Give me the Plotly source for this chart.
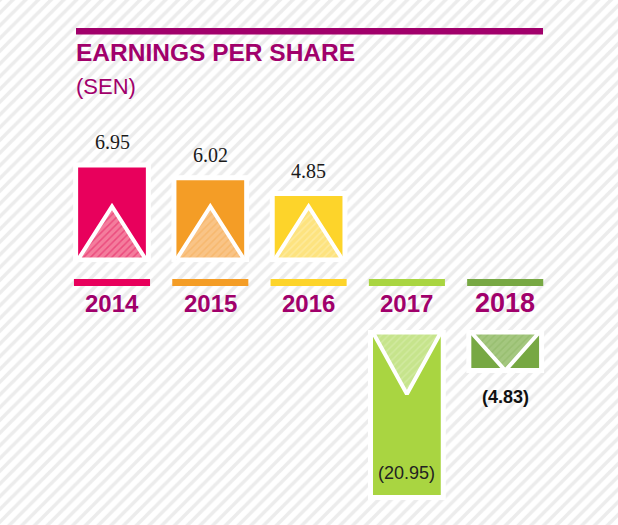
import plotly.graph_objects as go

W, H = 618, 525

# data
years = ["2014", "2015", "2016", "2017", "2018"]
eps = [6.95, 6.02, 4.85, -20.95, -4.83]
value_labels = ["6.95", "6.02", "4.85", "(20.95)", "(4.83)"]

# styling
BAR_COLORS = ["#e8005c", "#f49d26", "#fdd42a", "#a9d541", "#77a843"]
TRI_BG = ["#f47d9d", "#f9c487", "#fde37f", "#c6e48c", "#a4c77f"]
TRI_FG = ["#e21c5f", "#f5ac55", "#fef1b9", "#dbefb2", "#8cb661"]
PURPLE = "#a1006b"
BAR_W = 0.74
TRI_HALF = 0.345
TRI_UP = 3.9      # height of the decorative triangle on positive bars
TRI_DOWN = 7.8    # depth of the triangle on negative bars

X_DOM = [62.85 / W, 554.35 / W]


def py(px):
    """pixel row (from top) -> paper fraction"""
    return (H - px) / H


fig = go.Figure()

# striped page background on its own full-page axis (drawn first, so below)
fig.add_trace(
    go.Scatter(
        x=[0, 1, 1, 0, 0],
        y=[0, 0, 1, 1, 0],
        mode="lines",
        line=dict(width=0),
        fill="toself",
        fillcolor="#ffffff",
        fillpattern=dict(shape="/", bgcolor="#ffffff", fgcolor="#dadada", size=9, solidity=0.4),
        hoverinfo="skip",
        showlegend=False,
        xaxis="x",
        yaxis="y",
    )
)

pos = [i for i, v in enumerate(eps) if v >= 0]
neg = [i for i, v in enumerate(eps) if v < 0]

for idx, ax in ((pos, "2"), (neg, "3")):
    fig.add_trace(
        go.Bar(
            x=idx,
            y=[eps[i] for i in idx],
            width=BAR_W,
            marker=dict(color=[BAR_COLORS[i] for i in idx], line=dict(color="white", width=5)),
            hoverinfo="skip",
            showlegend=False,
            xaxis="x" + ax,
            yaxis="y" + ax,
        )
    )

# decorative hatched triangles inside each bar
for i, v in enumerate(eps):
    if v >= 0:
        tip, ax = TRI_UP, "2"
    else:
        tip, ax = -min(TRI_DOWN, abs(v)), "3"
    fig.add_trace(
        go.Scatter(
            x=[i - TRI_HALF, i, i + TRI_HALF, i - TRI_HALF],
            y=[0, tip, 0, 0],
            mode="lines",
            line=dict(color="white", width=4),
            fill="toself",
            fillcolor=TRI_BG[i],
            fillpattern=dict(shape="/", bgcolor=TRI_BG[i], fgcolor=TRI_FG[i], size=5, solidity=0.3),
            hoverinfo="skip",
            showlegend=False,
            xaxis="x" + ax,
            yaxis="y" + ax,
        )
    )

annotations = [
    dict(text="<b>EARNINGS PER SHARE</b>", xref="paper", yref="paper", x=74 / W, y=py(53),
         xanchor="left", yanchor="middle", showarrow=False,
         font=dict(family="Liberation Sans, Arial", size=24.5, color=PURPLE)),
    dict(text="(SEN)", xref="paper", yref="paper", x=74 / W, y=py(86),
         xanchor="left", yanchor="middle", showarrow=False,
         font=dict(family="Liberation Sans, Arial", size=22, color=PURPLE)),
]

for i, (yr, v, lab) in enumerate(zip(years, eps, value_labels)):
    annotations.append(
        dict(text=f"<b>{yr}</b>", xref="x2", yref="paper", x=i, y=py(303),
             xanchor="center", yanchor="middle", showarrow=False,
             font=dict(family="Liberation Sans, Arial", size=27 if i == 4 else 24, color=PURPLE))
    )
    if v >= 0:
        annotations.append(
            dict(text=lab, xref="x2", yref="y2", x=i, y=v, xanchor="center", yanchor="bottom",
                 yshift=10, showarrow=False,
                 font=dict(family="Liberation Serif, Times New Roman", size=20, color="#1a1a1a"))
        )
    elif abs(v) > 10:
        annotations.append(
            dict(text=lab, xref="x3", yref="y3", x=i, y=v, xanchor="center", yanchor="bottom",
                 yshift=13, showarrow=False,
                 font=dict(family="Liberation Sans, Arial", size=18, color="#222222"))
        )
    else:
        annotations.append(
            dict(text=f"<b>{lab}</b>", xref="x3", yref="y3", x=i, y=v, xanchor="center", yanchor="top",
                 yshift=-14, showarrow=False,
                 font=dict(family="Liberation Sans, Arial", size=18, color="#111111"))
        )

shapes = [
    dict(type="rect", xref="paper", yref="paper", x0=76 / W, x1=543 / W, y0=py(34.5), y1=py(28),
         fillcolor=PURPLE, line=dict(width=0), layer="above"),
]
for i, c in enumerate(BAR_COLORS):
    shapes.append(
        dict(type="rect", xref="x2", yref="paper", x0=i - 0.387, x1=i + 0.387, y0=py(286), y1=py(279),
             fillcolor=c, line=dict(width=0), layer="above")
    )

hidden = dict(visible=False, showgrid=False, zeroline=False, fixedrange=True)

fig.update_layout(
    width=W,
    height=H,
    margin=dict(l=0, r=0, t=0, b=0),
    paper_bgcolor="white",
    plot_bgcolor="rgba(0,0,0,0)",
    showlegend=False,
    barmode="overlay",
    xaxis=dict(domain=[0, 1], range=[0, 1], **hidden),
    yaxis=dict(domain=[0, 1], range=[0, 1], **hidden),
    xaxis2=dict(domain=X_DOM, range=[-0.5, 4.5], anchor="y2", **hidden),
    yaxis2=dict(domain=[py(266.3), py(150.7)], range=[-0.5, 8], anchor="x2", **hidden),
    xaxis3=dict(domain=X_DOM, range=[-0.5, 4.5], anchor="y3", **hidden),
    yaxis3=dict(domain=[py(509.7), py(328.6)], range=[-22.5, 0.5], anchor="x3", **hidden),
    annotations=annotations,
    shapes=shapes,
)

# the page's default body margin would push the figure 8px off the window corner
fig.write_html(
    "out.html",
    config={"displayModeBar": False},
    post_script="document.body.style.margin = '0';",
)
